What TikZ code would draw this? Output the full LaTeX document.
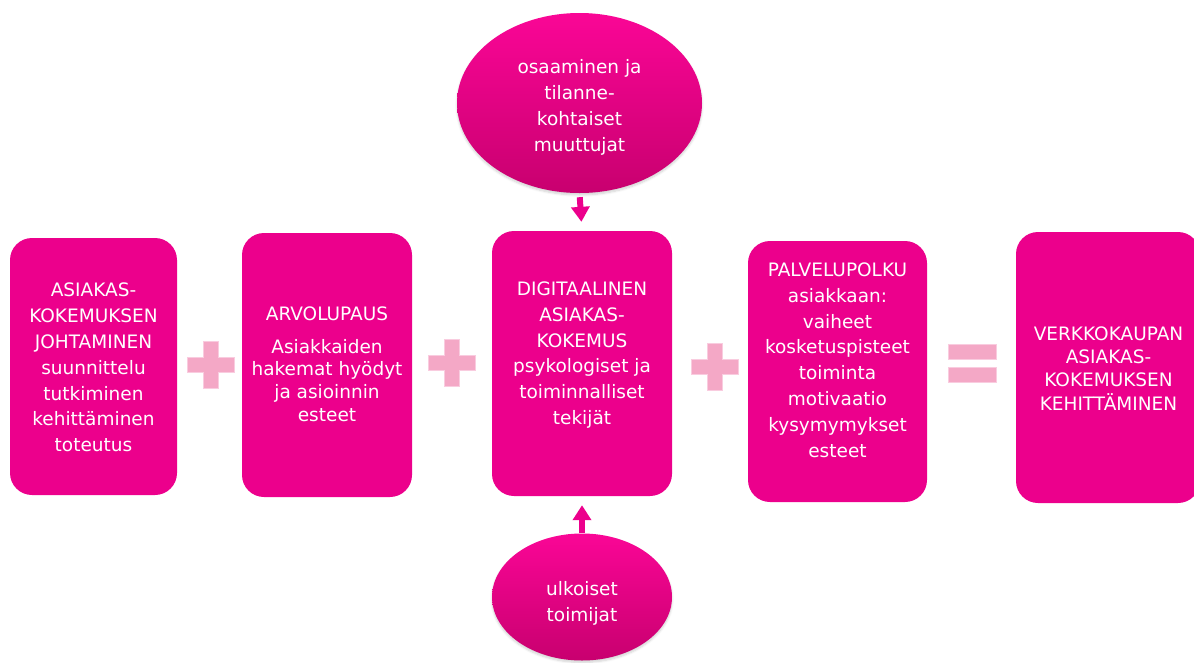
\documentclass[tikz,border=0pt]{standalone}
\usepackage{fontspec}
\setmainfont{DejaVu Sans}
\usetikzlibrary{arrows.meta,shapes.geometric,shadows.blur}

\definecolor{boxpink}{HTML}{EC008C}
\definecolor{elltop}{HTML}{FA0696}
\definecolor{ellbot}{HTML}{C8006F}
\definecolor{signpink}{HTML}{F4A8C6}
\definecolor{signedge}{HTML}{F9CCDF}

\tikzset{
  card/.style={fill=boxpink, draw=none, rounded corners=22pt, inner sep=0pt},
  blob/.style={ellipse, draw=none, inner sep=0pt,
    top color=elltop, bottom color=ellbot,
    blur shadow={shadow xshift=0pt, shadow yshift=-2pt, shadow blur steps=6, shadow opacity=18}},
  label/.style={text=white, align=center, inner sep=0pt,
    font=\fontsize{18.5}{25.8}\selectfont},
  arw/.style={draw=boxpink, line width=6pt,
    -{Triangle[width=18pt 0, length=15pt 0]}},
  plussign/.pic={
    \fill[signpink, draw=signedge, line width=0.8pt]
      (-7.5,-23.5) -- (7.5,-23.5) -- (7.5,-7.5) -- (23.5,-7.5) -- (23.5,7.5)
      -- (7.5,7.5) -- (7.5,23.5) -- (-7.5,23.5) -- (-7.5,7.5) -- (-23.5,7.5)
      -- (-23.5,-7.5) -- (-7.5,-7.5) -- cycle;
  },
  equalsign/.pic={
    \fill[signpink, draw=signedge, line width=0.8pt] (-24,-19) rectangle (24,-4);
    \fill[signpink, draw=signedge, line width=0.8pt] (-24,4) rectangle (24,19);
  }
}

\begin{document}
\begin{tikzpicture}[x=1pt, y=-1pt]
\useasboundingbox (0,0) rectangle (1194,662);
\clip (0,0) rectangle (1194,662);

% five cards
\node[card, minimum width=167pt, minimum height=257pt] (b1) at (93.5,366.5) {};
\node[card, minimum width=170pt, minimum height=264pt] (b2) at (327,365) {};
\node[card, minimum width=180pt, minimum height=265pt] (b3) at (582,363.5) {};
\node[card, minimum width=179pt, minimum height=261pt] (b4) at (837.5,371.5) {};
\node[card, minimum width=184pt, minimum height=271pt] (b5) at (1108,367.5) {};

% two ellipses
\node[blob, minimum width=245pt, minimum height=180pt] (top) at (579.5,103) {};
\node[blob, minimum width=180pt, minimum height=127pt] (bot) at (582,597) {};

% texts
\node[label] (t1) at (93.5,367.5)
  {ASIAKAS-\\KOKEMUKSEN\\JOHTAMINEN\\suunnittelu\\tutkiminen\\kehittäminen\\toteutus};
\node[label, font=\fontsize{18.5}{22.8}\selectfont] (t2) at (327,364.1)
  {ARVOLUPAUS\\[10pt]Asiakkaiden\\hakemat hyödyt\\ja asioinnin\\esteet};
\node[label] (t3) at (582,355.1)
  {DIGITAALINEN\\ASIAKAS-\\KOKEMUS\\psykologiset ja\\toiminnalliset\\tekijät};
\node[label] (t4) at (837.5,360)
  {PALVELUPOLKU\\asiakkaan:\\vaiheet\\kosketuspisteet\\toiminta\\motivaatio\\kysymymykset\\esteet};
\node[label, font=\fontsize{18.5}{23.3}\selectfont] (t5) at (1108.5,368.2)
  {VERKKOKAUPAN\\ASIAKAS-\\KOKEMUKSEN\\KEHITTÄMINEN};
\node[label, font=\fontsize{18.5}{26.1}\selectfont] (t6) at (579.5,107.7)
  {osaaminen ja\\tilanne-\\kohtaiset\\muuttujat};
\node[label, font=\fontsize{18.5}{26.7}\selectfont] (t7) at (582,603.5)
  {ulkoiset\\toimijat};

% connectors into the central card
\draw[arw, shorten <=4pt, shorten >=9pt] (top.south) -- (b3.north);
\draw[arw, shorten >=9pt] (bot.north) -- (b3.south);

% operators between the cards
\pic at (211,365) {plussign};
\pic at (452,363) {plussign};
\pic at (715,367) {plussign};
\pic at (972,363) {equalsign};
\end{tikzpicture}
\end{document}
